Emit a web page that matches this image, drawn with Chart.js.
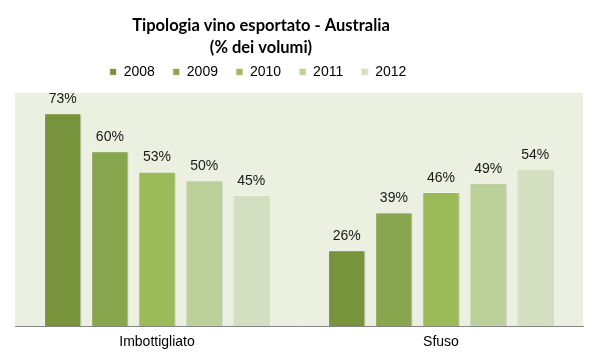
<!DOCTYPE html>
<html>
<head>
<meta charset="utf-8">
<script src="https://cdn.jsdelivr.net/npm/chart.js@4/dist/chart.umd.min.js"></script>
<style>
html,body{margin:0;padding:0;background:#fff;}
#wrap{width:598px;height:361px;}
</style>
</head>
<body>
<div id="wrap"><canvas id="c" width="598" height="361"></canvas></div>
<script>
const categories = ['Imbottigliato', 'Sfuso'];
const years = ['2008', '2009', '2010', '2011', '2012'];
const v2008 = [73, 26];
const v2009 = [60, 39];
const v2010 = [53, 46];
const v2011 = [50, 49];
const v2012 = [45, 54];
const seriesValues = [v2008, v2009, v2010, v2011, v2012];
const colors = ['#77933C', '#88A64E', '#9BBB59', '#BCD09A', '#D3DFC0'];

const TITLE_SHIFT = -38;
const LEGEND_SHIFT = -41;

const bgPlugin = {
  id: 'plotBg',
  afterLayout(chart) {
    if (chart.titleBlock) { chart.titleBlock.left += TITLE_SHIFT; chart.titleBlock.right += TITLE_SHIFT; }
    if (chart.legend) { chart.legend.left += LEGEND_SHIFT; chart.legend.right += LEGEND_SHIFT; }
  },
  beforeDraw(chart) {
    const a = chart.chartArea, ctx = chart.ctx;
    ctx.save();
    ctx.fillStyle = '#EBF0E0';
    ctx.fillRect(a.left, a.top, a.right - a.left, a.bottom - a.top);
    ctx.restore();
  },
  beforeDatasetsDraw(chart) {
    const ctx = chart.ctx;
    ctx.save();
    ctx.shadowColor = 'rgba(0,0,0,0.18)';
    ctx.shadowBlur = 2;
    ctx.shadowOffsetX = 1;
    ctx.shadowOffsetY = 1;
  },
  afterDatasetsDraw(chart) {
    chart.ctx.restore();
    const ctx = chart.ctx;
    ctx.save();
    ctx.font = '14px "Liberation Sans", Arial, sans-serif';
    ctx.fillStyle = '#1a1a1a';
    ctx.textAlign = 'center';
    ctx.textBaseline = 'middle';
    chart.data.datasets.forEach((ds, i) => {
      chart.getDatasetMeta(i).data.forEach((bar, j) => {
        ctx.fillText(ds.data[j] + '%', bar.x, bar.y - 14);
      });
    });
    ctx.restore();
  }
};

new Chart(document.getElementById('c'), {
  type: 'bar',
  data: {
    labels: categories,
    datasets: years.map((y, i) => ({
      label: y,
      data: seriesValues[i],
      backgroundColor: colors[i],
      borderColor: '#F4F7EE',
      borderWidth: 1,
      categoryPercentage: 0.83,
      barPercentage: 0.79
    }))
  },
  options: {
    responsive: false,
    animation: false,
    devicePixelRatio: 1,
    layout: { padding: { left: 15, right: 15, top: 0, bottom: 2 } },
    plugins: {
      title: {
        display: true,
        text: ['Tipologia vino esportato - Australia', '(% dei volumi)'],
        color: '#000',
        font: { family: 'Lato, "Liberation Sans", sans-serif', size: 16.5, weight: 'bold', lineHeight: 1.36 },
        padding: { top: 14, bottom: -12 }
      },
      subtitle: {
        display: true,
        text: '',
        weight: 500,
        font: { size: 1, lineHeight: 1 },
        padding: { top: 3, bottom: 0 }
      },
      legend: {
        display: true,
        position: 'top',
        labels: {
          color: '#000',
          font: { family: '"Liberation Sans", Arial, sans-serif', size: 14 },
          boxWidth: 7,
          boxHeight: 7,
          padding: 18
        }
      },
      tooltip: { enabled: false }
    },
    scales: {
      x: {
        grid: { display: false, drawTicks: false },
        border: { display: true, color: '#868686', width: 1 },
        ticks: { color: '#000', font: { family: '"Liberation Sans", Arial, sans-serif', size: 14 }, padding: 8 }
      },
      y: {
        display: false,
        min: 0,
        max: 80
      }
    }
  },
  plugins: [bgPlugin]
});
</script>
</body>
</html>
